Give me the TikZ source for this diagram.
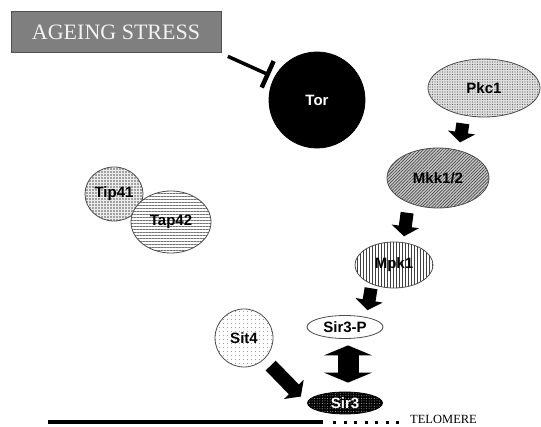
\documentclass[tikz,border=0pt]{standalone}
\usepackage{fontspec}
\setmainfont{Liberation Serif}
\setsansfont{Liberation Sans}
\usetikzlibrary{arrows.meta, shapes.geometric, patterns.meta}
\definecolor{stresscol}{HTML}{7F7F7F}
\definecolor{stressrim}{HTML}{505050}
\definecolor{stresstext}{HTML}{F2F2F2}
\definecolor{rimcol}{HTML}{4D4D4D}
\tikzset{
  prot/.style={ellipse, draw=rimcol, line width=0.8pt, inner sep=0pt, font=\sffamily\bfseries\fontsize{15}{15}\selectfont},
  stressbox/.style={rectangle, draw=stressrim, line width=1pt, fill=stresscol, text=stresstext, minimum width=210pt, minimum height=41pt, font=\fontsize{22}{22}\selectfont},
  tornode/.style={prot, circle, draw=black, fill=black, text=white, minimum size=96pt},
  pkcnode/.style={prot, minimum width=112pt, minimum height=58pt, preaction={fill=black!12}, pattern={Dots[distance=2.5pt, radius=0.55pt]}, pattern color=black!60},
  mkknode/.style={prot, minimum width=102pt, minimum height=60pt, preaction={fill=black!22}, pattern={Lines[angle=45, distance=2.2pt, line width=0.7pt]}, pattern color=black!70},
  mpknode/.style={prot, minimum width=78pt, minimum height=46pt, preaction={fill=white}, pattern={Lines[angle=90, distance=3pt, line width=0.8pt]}, pattern color=black!75},
  sirpnode/.style={prot, minimum width=76pt, minimum height=23pt, fill=white},
  sirnode/.style={prot, draw=black, minimum width=75pt, minimum height=22pt, text=white, preaction={fill=black}, pattern={Dots[distance=2.6pt, radius=0.5pt]}, pattern color=white!70!black},
  sitnode/.style={prot, circle, minimum size=58pt, preaction={fill=white}, pattern={Dots[distance=4pt, radius=0.55pt]}, pattern color=black!65},
  tipnode/.style={prot, minimum width=58pt, minimum height=54pt, preaction={fill=black!8}, pattern={Dots[distance=3pt, radius=0.8pt]}, pattern color=black!65},
  tapnode/.style={prot, minimum width=80pt, minimum height=62pt, preaction={fill=white}, pattern={Lines[angle=0, distance=3pt, line width=0.9pt]}, pattern color=black!55},
  blockarrow/.style={line width=13pt, -{Triangle[length=10pt, width=27pt]}},
  twinarrow/.style={line width=21pt, {Triangle[length=10pt, width=48pt]}-{Triangle[length=10pt, width=48pt]}},
  inhibit/.style={line width=3.5pt, -{Bar[width=29pt, line width=4.5pt]}},
}

\begin{document}
\begin{tikzpicture}[x=1pt, y=-1pt]
  \useasboundingbox (0,0) rectangle (541,427);
  \node[stressbox] (stress) at (116,32.5) {AGEING STRESS};
  \node[tornode] (Tor) at (317,100) {Tor};
  \node[pkcnode] (Pkc1) at (484,88) {Pkc1};
  \node[mkknode] (Mkk) at (438,178) {Mkk1/2};
  \node[mpknode] (Mpk1) at (394,265) {Mpk1};
  \node[sirpnode] (Sir3P) at (345,327) {Sir3-P};
  \node[sirnode] (Sir3) at (345,403) {Sir3};
  \node[sitnode] (Sit4) at (244,338) {Sit4};
  \node[tipnode] (Tip41) at (114,194) {Tip41};
  \node[tapnode] (Tap42) at (171,222) {Tap42};
  \draw[inhibit, shorten <=7pt, shorten >=5pt] (stress.south east) -- (Tor.152);
  \draw[blockarrow, shorten <=8pt, shorten >=8pt] (Pkc1.234) -- (Mkk.53);
  \draw[blockarrow, shorten <=10pt, shorten >=6pt] (Mkk.220) -- (Mpk1.68);
  \draw[blockarrow, shorten <=4pt, shorten >=7pt] (Mpk1.221) -- (Sir3P.25);
  \draw[twinarrow, shorten <=6.5pt, shorten >=9pt] ([xshift=3pt]Sir3P.south) -- ([xshift=3pt]Sir3.north);
  \draw[blockarrow, line width=14pt, shorten <=9pt, shorten >=9pt] (Sit4.-46) -- (Sir3.west);
  % telomere end
  \coordinate (telL) at (48,422.5);
  \coordinate (telR) at (323,422.5);
  \draw[line width=4pt] (telL) -- (telR);
  \foreach \i in {0,...,6}
    \fill (333+10.5*\i,421) rectangle ++(3,3.5);
  \node[anchor=base west, inner sep=0pt, font=\fontsize{12.5}{12.5}\selectfont] (telo) at (410,424) {TELOMERE};
\end{tikzpicture}
\end{document}
